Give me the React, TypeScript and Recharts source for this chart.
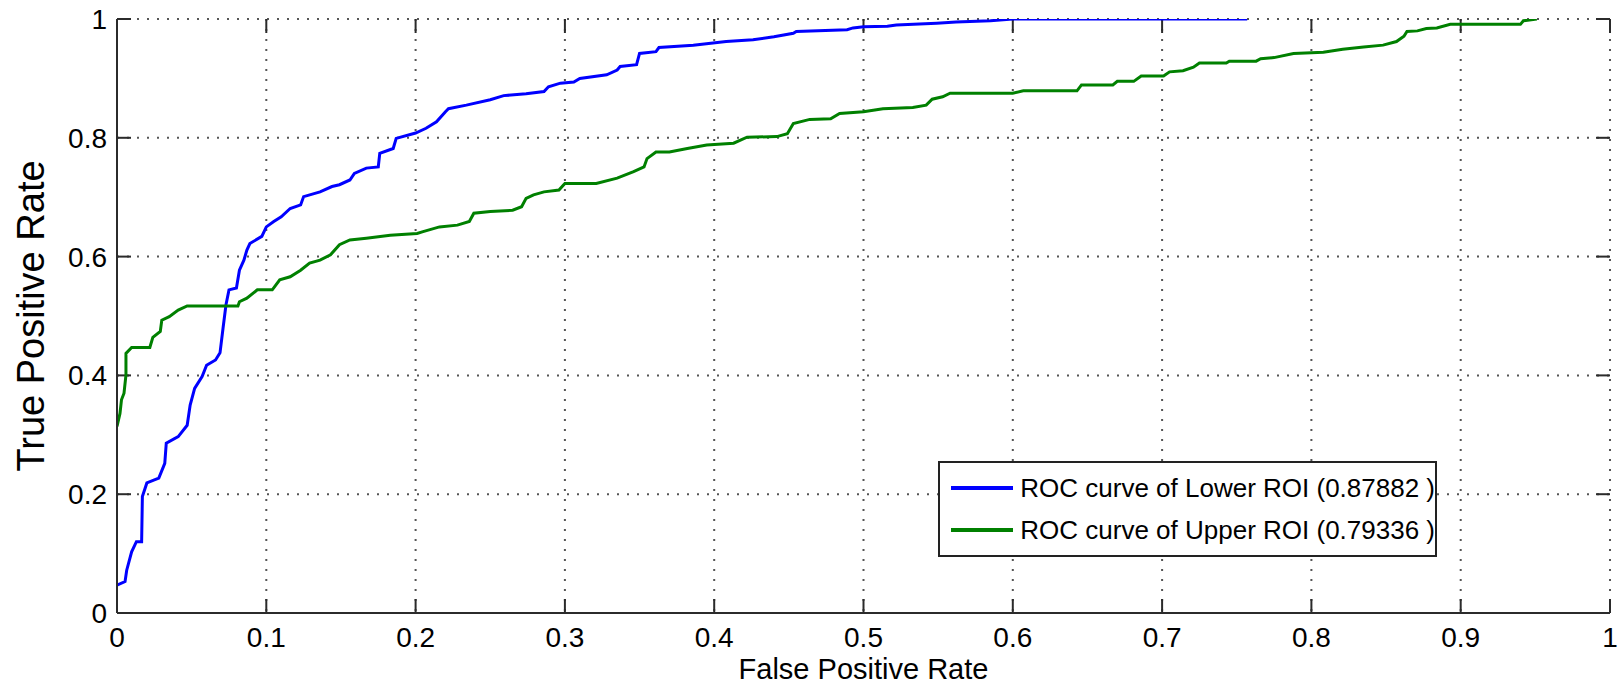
import React from "react";
import { LineChart, Line, XAxis, YAxis, CartesianGrid, Legend, ReferenceLine } from "recharts";

// ROC curve points (false positive rate, true positive rate)
const lowerFpr = [
  0, 0.0054, 0.0065, 0.0098, 0.013, 0.0165, 0.017, 0.02, 0.028, 0.032, 0.033, 0.041, 0.047, 0.049,
  0.052, 0.057, 0.06, 0.066, 0.069, 0.071, 0.073, 0.075, 0.08, 0.082, 0.085, 0.087, 0.089, 0.097,
  0.1, 0.105, 0.11, 0.116, 0.123, 0.125, 0.136, 0.144, 0.149, 0.156, 0.159, 0.167, 0.175, 0.176,
  0.185, 0.187, 0.2, 0.207, 0.214, 0.22, 0.222, 0.234, 0.25, 0.259, 0.274, 0.286, 0.289, 0.297,
  0.306, 0.31, 0.328, 0.335, 0.337, 0.348, 0.35, 0.361, 0.363, 0.386, 0.408, 0.426, 0.44, 0.453,
  0.455, 0.489, 0.493, 0.5, 0.516, 0.522, 0.549, 0.562, 0.585, 0.6, 0.757,
];
const lowerTpr = [
  0.047, 0.053, 0.072, 0.103, 0.12, 0.12, 0.196, 0.219, 0.227, 0.252, 0.286, 0.297, 0.316, 0.35,
  0.378, 0.398, 0.417, 0.426, 0.438, 0.479, 0.519, 0.544, 0.547, 0.577, 0.594, 0.611, 0.622, 0.634,
  0.65, 0.659, 0.667, 0.681, 0.687, 0.701, 0.709, 0.718, 0.721, 0.729, 0.74, 0.749, 0.751, 0.774,
  0.782, 0.799, 0.808, 0.816, 0.827, 0.844, 0.849, 0.855, 0.864, 0.871, 0.874, 0.878, 0.886, 0.892,
  0.894, 0.9, 0.906, 0.914, 0.92, 0.923, 0.942, 0.945, 0.952, 0.956, 0.962, 0.965, 0.97, 0.976,
  0.979, 0.982, 0.985, 0.987, 0.988, 0.99, 0.993, 0.995, 0.997, 1, 1,
];

const upperFpr = [
  0, 0.002, 0.003, 0.0047, 0.006, 0.006, 0.0098, 0.022, 0.024, 0.029, 0.03, 0.035, 0.041, 0.047,
  0.081, 0.082, 0.087, 0.094, 0.104, 0.109, 0.116, 0.123, 0.129, 0.136, 0.143, 0.149, 0.156, 0.167,
  0.183, 0.201, 0.205, 0.216, 0.228, 0.236, 0.239, 0.25, 0.265, 0.271, 0.274, 0.279, 0.286, 0.296,
  0.3, 0.321, 0.335, 0.346, 0.353, 0.355, 0.361, 0.37, 0.382, 0.395, 0.413, 0.422, 0.442, 0.449,
  0.453, 0.464, 0.478, 0.484, 0.5, 0.513, 0.533, 0.542, 0.546, 0.553, 0.558, 0.6, 0.607, 0.643,
  0.646, 0.667, 0.67, 0.681, 0.686, 0.701, 0.705, 0.714, 0.721, 0.725, 0.743, 0.745, 0.763, 0.766,
  0.775, 0.788, 0.808, 0.821, 0.835, 0.848, 0.857, 0.862, 0.864, 0.871, 0.877, 0.884, 0.893, 0.94,
  0.942, 0.951,
];
const upperTpr = [
  0.314, 0.336, 0.359, 0.37, 0.401, 0.437, 0.447, 0.447, 0.464, 0.474, 0.493, 0.499, 0.51, 0.517,
  0.517, 0.524, 0.53, 0.544, 0.544, 0.561, 0.566, 0.577, 0.589, 0.594, 0.603, 0.62, 0.628, 0.631,
  0.636, 0.639, 0.642, 0.65, 0.653, 0.659, 0.673, 0.676, 0.678, 0.684, 0.698, 0.704, 0.709, 0.712,
  0.723, 0.723, 0.732, 0.743, 0.751, 0.765, 0.776, 0.776, 0.782, 0.788, 0.791, 0.801, 0.802, 0.807,
  0.824, 0.831, 0.832, 0.841, 0.844, 0.849, 0.851, 0.855, 0.865, 0.869, 0.875, 0.875, 0.879, 0.879,
  0.889, 0.889, 0.895, 0.895, 0.904, 0.904, 0.911, 0.913, 0.919, 0.926, 0.926, 0.929, 0.929, 0.933,
  0.935, 0.942, 0.944, 0.949, 0.953, 0.956, 0.962, 0.971, 0.979, 0.98, 0.984, 0.985, 0.991, 0.991,
  0.997, 1,
];

const seriesNames = ["ROC curve of Lower ROI (0.87882 )", "ROC curve of Upper ROI (0.79336 )"];
const seriesColors = ["#0000ff", "#008000"];
const xTicks = [0, 0.1, 0.2, 0.3, 0.4, 0.5, 0.6, 0.7, 0.8, 0.9, 1];
const yTicks = [0, 0.2, 0.4, 0.6, 0.8, 1];

const lowerData = lowerFpr.map((fpr, i) => ({ fpr, tpr: lowerTpr[i] }));
const upperData = upperFpr.map((fpr, i) => ({ fpr, tpr: upperTpr[i] }));

const FONT = '"Liberation Sans", Arial, Helvetica, sans-serif';
const INK = "#2b2b2b";
const AXIS = { stroke: INK, strokeWidth: 2 };
// MATLAB-style ticks point into the box: about 14px of a 594px tall / 1493px wide plot
const TICK_Y = 14 / 594;
const TICK_X = 14 / 1493;

function BottomTick(props: any) {
  return (
    <text x={props.x} y={Number(props.y) + 34} textAnchor="middle" fontSize={28} fontFamily={FONT} fill="#000">
      {String(props.payload.value)}
    </text>
  );
}

function LeftTick(props: any) {
  return (
    <text x={Number(props.x) - 10} y={props.y} dy="0.36em" textAnchor="end" fontSize={28} fontFamily={FONT} fill="#000">
      {String(props.payload.value)}
    </text>
  );
}

function XLabel({ viewBox }: any) {
  return (
    <text
      x={viewBox.x + viewBox.width / 2}
      y={viewBox.y + viewBox.height - 6}
      textAnchor="middle"
      fontSize={29}
      fontFamily={FONT}
      fill="#000"
    >
      False Positive Rate
    </text>
  );
}

function YLabel({ viewBox }: any) {
  const cx = viewBox.x + 30;
  const cy = viewBox.y + viewBox.height / 2;
  return (
    <text
      x={cx}
      y={cy}
      dy="0.36em"
      transform={`rotate(-90, ${cx}, ${cy})`}
      textAnchor="middle"
      fontSize={38}
      fontFamily={FONT}
      fill="#000"
    >
      True Positive Rate
    </text>
  );
}

function LegendBox() {
  return (
    <div
      style={{
        boxSizing: "border-box",
        width: 499,
        height: 96,
        border: "2px solid #222",
        background: "#fff",
        padding: "4px 0 0 11px",
        fontFamily: FONT,
        fontSize: 26,
        color: "#000",
      }}
    >
      {seriesNames.map((name, i) => (
        <div key={name} style={{ display: "flex", alignItems: "center", height: 42 }}>
          <span style={{ display: "inline-block", width: 64, height: 4, background: seriesColors[i], marginRight: 7 }} />
          <span style={{ whiteSpace: "nowrap" }}>{name}</span>
        </div>
      ))}
    </div>
  );
}

export default function App() {
  const tickStyle = { stroke: INK, strokeWidth: 2, ifOverflow: "visible" as const };
  return (
    <div style={{ position: "fixed", left: 0, top: 0, background: "#fff" }}>
      <LineChart width={1621} height={685} margin={{ top: 19, right: 11, bottom: 0, left: 0 }}>
        <CartesianGrid stroke="#555" strokeWidth={2} strokeDasharray="2 8" />
        <XAxis
          dataKey="fpr"
          type="number"
          domain={[0, 1]}
          ticks={xTicks}
          allowDataOverflow
          height={72}
          tickSize={0}
          tickMargin={0}
          axisLine={AXIS}
          tickLine={false}
          tick={<BottomTick />}
          label={<XLabel />}
        />
        <XAxis
          xAxisId="top"
          orientation="top"
          type="number"
          domain={[0, 1]}
          allowDataOverflow
          height={0}
          axisLine={AXIS}
          tickLine={false}
          tick={false}
        />
        <YAxis
          type="number"
          domain={[0, 1]}
          ticks={yTicks}
          allowDataOverflow
          width={117}
          tickSize={0}
          tickMargin={0}
          axisLine={AXIS}
          tickLine={false}
          tick={<LeftTick />}
          label={<YLabel />}
        />
        <YAxis
          yAxisId="right"
          orientation="right"
          type="number"
          domain={[0, 1]}
          allowDataOverflow
          width={0}
          axisLine={AXIS}
          tickLine={false}
          tick={false}
        />
        {xTicks.map((t) => (
          <ReferenceLine key={`b${t}`} segment={[{ x: t, y: 0 }, { x: t, y: TICK_Y }]} {...tickStyle} />
        ))}
        {xTicks.map((t) => (
          <ReferenceLine key={`t${t}`} segment={[{ x: t, y: 1 }, { x: t, y: 1 - TICK_Y }]} {...tickStyle} />
        ))}
        {yTicks.map((t) => (
          <ReferenceLine key={`l${t}`} segment={[{ x: 0, y: t }, { x: TICK_X, y: t }]} {...tickStyle} />
        ))}
        {yTicks.map((t) => (
          <ReferenceLine key={`r${t}`} segment={[{ x: 1, y: t }, { x: 1 - TICK_X, y: t }]} {...tickStyle} />
        ))}
        <Line
          data={lowerData}
          dataKey="tpr"
          name={seriesNames[0]}
          type="linear"
          stroke={seriesColors[0]}
          strokeWidth={3}
          dot={false}
          isAnimationActive={false}
        />
        <Line
          data={upperData}
          dataKey="tpr"
          name={seriesNames[1]}
          type="linear"
          stroke={seriesColors[1]}
          strokeWidth={3}
          dot={false}
          isAnimationActive={false}
        />
        <Legend
          layout="vertical"
          align="center"
          verticalAlign="middle"
          content={() => <LegendBox />}
          wrapperStyle={{ left: 938, top: 461, width: 499, height: 96 }}
        />
      </LineChart>
    </div>
  );
}
